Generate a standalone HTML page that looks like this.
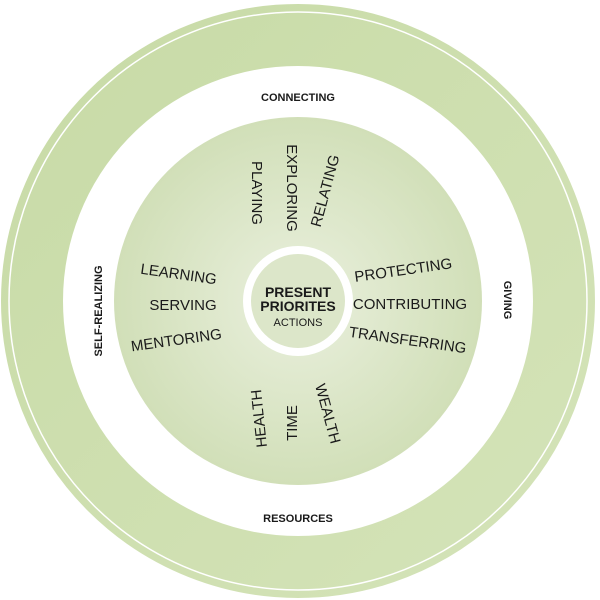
<!DOCTYPE html>
<html><head><meta charset="utf-8"><style>
html,body{margin:0;padding:0;background:#fff;}
svg{display:block;}
text{font-family:"Liberation Sans",sans-serif;fill:#1a1a1a;}
</style></head><body>
<svg width="600" height="600" viewBox="0 0 600 600" xmlns="http://www.w3.org/2000/svg">
<defs>
<radialGradient id="g" cx="0.5" cy="0.5" r="0.5">
<stop offset="0" stop-color="#eaf0de"/>
<stop offset="1" stop-color="#d1dfb8"/>
</radialGradient>
<linearGradient id="b" x1="0" y1="0" x2="1" y2="1">
<stop offset="0" stop-color="#c8dba7"/>
<stop offset="1" stop-color="#d4e3b8"/>
</linearGradient>
</defs>
<circle cx="298" cy="301" r="266" fill="none" stroke="url(#b)" stroke-width="62"/>
<circle cx="298" cy="301" r="289" fill="none" stroke="#fff" stroke-width="1.5"/>
<circle cx="298" cy="301" r="184" fill="url(#g)"/>
<circle cx="298" cy="301" r="55" fill="#fff"/>
<circle cx="298" cy="301" r="47" fill="#dce6c9"/>
<g font-weight="bold" font-size="11" text-anchor="middle">
<text x="298" y="101">CONNECTING</text>
<text x="298" y="522">RESOURCES</text>
<text transform="translate(102,311) rotate(-90)">SELF-REALIZING</text>
<text transform="translate(504,300) rotate(90)">GIVING</text>
</g>
<g font-size="15" text-anchor="middle">
<text transform="translate(252,193) rotate(90)">PLAYING</text>
<text transform="translate(287,188) rotate(90)">EXPLORING</text>
<text transform="translate(330,192) rotate(-75)">RELATING</text>
<text transform="translate(178,279) rotate(8)">LEARNING</text>
<text x="183" y="310">SERVING</text>
<text transform="translate(177,345) rotate(-8)">MENTORING</text>
<text transform="translate(404,275) rotate(-8)">PROTECTING</text>
<text x="410" y="309">CONTRIBUTING</text>
<text transform="translate(407,345) rotate(8)">TRANSFERRING</text>
<text transform="translate(264,418) rotate(-96)">HEALTH</text>
<text transform="translate(297,423) rotate(-90)">TIME</text>
<text transform="translate(323,415) rotate(75)">WEALTH</text>
</g>
<g text-anchor="middle">
<text x="298" y="297" font-size="14" font-weight="bold">PRESENT</text>
<text x="298" y="311" font-size="14" font-weight="bold">PRIORITES</text>
<text x="298" y="326" font-size="11">ACTIONS</text>
</g>
</svg>
</body></html>
